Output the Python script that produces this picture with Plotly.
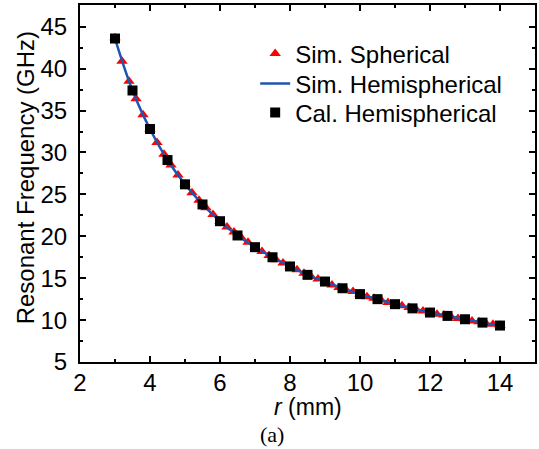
import plotly.graph_objects as go

# Sim. Spherical (triangles), r step 0.2 mm
r_sph = [3.0, 3.2, 3.4, 3.6, 3.8, 4.0, 4.2, 4.4, 4.6, 4.8, 5.0, 5.2, 5.4, 5.6, 5.8,
         6.0, 6.2, 6.4, 6.6, 6.8, 7.0, 7.2, 7.4, 7.6, 7.8, 8.0, 8.2, 8.4, 8.6, 8.8,
         9.0, 9.2, 9.4, 9.6, 9.8, 10.0, 10.2, 10.4, 10.6, 10.8, 11.0, 11.2, 11.4, 11.6,
         11.8, 12.0, 12.2, 12.4, 12.6, 12.8, 13.0, 13.2, 13.4, 13.6, 13.8, 14.0]
f_sph = [43.7, 40.9, 38.5, 36.4, 34.5, 32.8, 31.2, 29.8, 28.5, 27.3, 26.2, 25.2, 24.3, 23.4, 22.6,
         21.8, 21.1, 20.5, 19.9, 19.3, 18.7, 18.2, 17.7, 17.2, 16.8, 16.4, 16.0, 15.6, 15.2, 14.9,
         14.6, 14.2, 13.9, 13.6, 13.4, 13.1, 12.8, 12.6, 12.4, 12.1, 11.9, 11.7, 11.5, 11.3,
         11.1, 10.9, 10.7, 10.6, 10.4, 10.2, 10.1, 9.9, 9.8, 9.6, 9.5, 9.4]

# Sim. Hemispherical (line) and Cal. Hemispherical (squares), r step 0.5 mm
r_hemi = [3.0, 3.5, 4.0, 4.5, 5.0, 5.5, 6.0, 6.5, 7.0, 7.5, 8.0, 8.5, 9.0, 9.5,
          10.0, 10.5, 11.0, 11.5, 12.0, 12.5, 13.0, 13.5, 14.0]
f_sim_hemi = [43.6, 37.4, 32.8, 29.1, 26.2, 23.8, 21.8, 20.1, 18.7, 17.5, 16.4, 15.4, 14.6, 13.8,
              13.1, 12.5, 11.9, 11.4, 10.9, 10.5, 10.1, 9.7, 9.35]
f_cal_hemi = [43.6, 37.4, 32.8, 29.1, 26.2, 23.8, 21.8, 20.1, 18.7, 17.5, 16.4, 15.4, 14.6, 13.8,
              13.1, 12.5, 11.9, 11.4, 10.9, 10.5, 10.1, 9.7, 9.35]

x_ticks = [2, 4, 6, 8, 10, 12, 14]
y_ticks = [5, 10, 15, 20, 25, 30, 35, 40, 45]

FONT = "Liberation Sans, Arial, sans-serif"

fig = go.Figure()
fig.add_trace(go.Scatter(x=r_sph, y=f_sph, mode="markers", name="Sim. Spherical", legend="legend",
                         marker=dict(symbol="triangle-up", color="#ff0000", size=10, line=dict(width=0))))
fig.add_trace(go.Scatter(x=r_hemi, y=f_sim_hemi, mode="lines", name="Sim. Hemispherical", legend="legend2",
                         line=dict(color="#1f56b0", width=2.5, shape="spline")))
fig.add_trace(go.Scatter(x=r_hemi, y=f_cal_hemi, mode="markers", name="Cal. Hemispherical", legend="legend3",
                         marker=dict(symbol="square", color="#000000", size=10, line=dict(width=0))))

axis_common = dict(showline=True, linecolor="black", linewidth=2, mirror="ticks",
                   ticks="inside", ticklen=6, tickwidth=2, tickcolor="black",
                   showgrid=False, zeroline=False,
                   tickfont=dict(family=FONT, size=24, color="black"))

fig.update_xaxes(range=[2, 15], tickvals=x_ticks, ticktext=[str(v) for v in x_ticks],
                 minor=dict(dtick=1, tick0=2, ticks="inside", ticklen=3, tickwidth=2, tickcolor="black"),
                 ticklabelstandoff=-2,
                 **axis_common)
fig.update_yaxes(range=[5, 47.6], tickvals=y_ticks, ticktext=[str(v) for v in y_ticks],
                 minor=dict(dtick=2.5, tick0=5, ticks="inside", ticklen=3, tickwidth=2, tickcolor="black"),
                 ticklabelstandoff=6,
                 **axis_common)

leg_common = dict(x=0.385, xanchor="left", yanchor="middle",
                  font=dict(family=FONT, size=24, color="black"),
                  bgcolor="rgba(0,0,0,0)", itemwidth=30, borderwidth=0)

fig.update_layout(
    width=539, height=449,
    margin=dict(l=80, r=2, t=5, b=87),
    paper_bgcolor="white", plot_bgcolor="white",
    showlegend=True,
    legend=dict(y=0.8627, **leg_common),
    legend2=dict(y=0.7787, **leg_common),
    legend3=dict(y=0.6975, **leg_common),
    annotations=[
        dict(text="<i>r</i> (mm)", x=0.5, y=-0.1274, xref="paper", yref="paper",
             xanchor="center", yanchor="middle", showarrow=False,
             font=dict(family=FONT, size=23, color="black")),
        dict(text="Resonant Frequency (GHz)", x=-0.1204, y=0.515, xref="paper", yref="paper",
             xanchor="center", yanchor="middle", textangle=-90, showarrow=False,
             font=dict(family=FONT, size=24, color="black")),
        dict(text="(a)", x=0.423, y=-0.2031, xref="paper", yref="paper", xanchor="center",
             yanchor="middle", showarrow=False,
             font=dict(family="Liberation Serif, Times New Roman, serif", size=22, color="black")),
    ],
)

fig.write_html("out.html")
